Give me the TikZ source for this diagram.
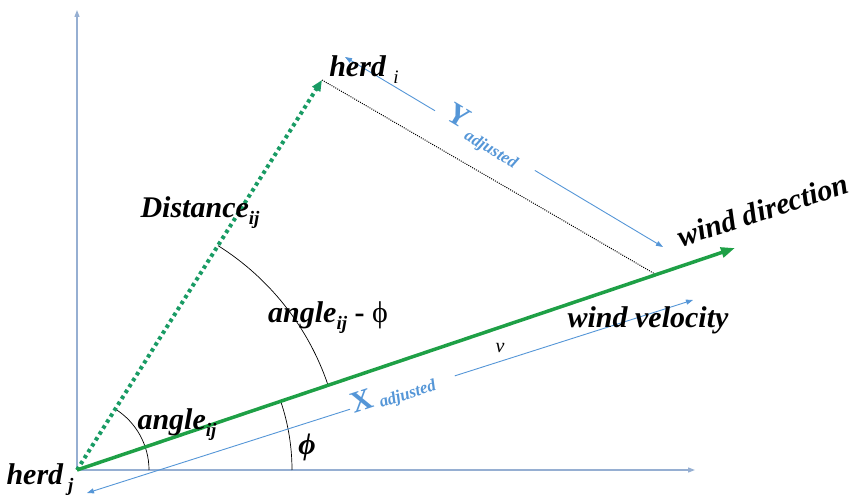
\documentclass[tikz,border=0pt]{standalone}
\usepackage{fontspec}
\setmainfont{Liberation Serif}
\usepackage{tikz}
\usetikzlibrary{arrows.meta, calc, angles}
\definecolor{cWind}{RGB}{30,160,70}
\definecolor{cDist}{RGB}{25,155,100}
\definecolor{cBlue}{RGB}{85,150,215}
\definecolor{cAxis}{RGB}{150,175,210}
\newcommand{\lowsub}[1]{\raisebox{-7pt}{\fontsize{19}{19}\selectfont #1}}
\tikzset{
	axis/.style  ={-{Triangle[length=7pt, width=5pt]}, line width=1.2pt, draw=cAxis},
	wind/.style  ={-{Triangle[length=14pt, width=10pt]}, line width=3.5pt, draw=cWind},
	dist/.style  ={-{Triangle[length=11pt, width=9pt]}, line width=4pt, draw=cDist, dash pattern=on 3.5pt off 3.5pt},
	guide/.style ={draw=black, line width=1pt, dash pattern=on 1pt off 1.2pt},
	adj/.style   ={line width=0.9pt, draw=cBlue},
	adjtip/.style={-{Triangle[length=7pt, width=5pt]}},
	ang/.style   ={draw=black, line width=0.7pt},
	lbl/.style   ={font=\fontsize{30}{32}\selectfont\bfseries\itshape, inner sep=0pt},
	adjlbl/.style={font=\fontsize{30}{32}\selectfont\bfseries, text=cBlue, inner sep=0pt},
}
\newcommand{\adjtext}[1]{\raisebox{#1}{\fontsize{17}{18}\selectfont\itshape adjusted}}
\begin{document}
\begin{tikzpicture}[x=1pt, y=1pt]
	\useasboundingbox (-77,-27) rectangle (781,470);
	% points
	\coordinate (hj) at (0,0);
	\coordinate (ytop) at (0,460);
	\coordinate (xend) at (618,0);
	\coordinate (hi) at (245,390);
	\coordinate (wd) at (658,222);
	\coordinate (foot) at ($(hj)!0.88!(wd)$);
	\coordinate (ya1) at (268,413);
	\coordinate (ya2) at (586,223);
	\coordinate (ygap1) at ($(ya1)!0.283!(ya2)$);
	\coordinate (ygap2) at ($(ya1)!0.597!(ya2)$);
	\coordinate (xa1) at (10,-23);
	\coordinate (xa2) at (616,170);
	\coordinate (xgap1) at ($(xa1)!0.434!(xa2)$);
	\coordinate (xgap2) at ($(xa1)!0.607!(xa2)$);
	% axes
	\draw[axis] (hj) -- (ytop);
	\draw[axis] (hj) -- (xend);
	% angles
	\pic[ang, angle radius=72pt] {angle=xend--hj--hi};
	\pic[ang, angle radius=215pt] {angle=xend--hj--wd};
	\pic[ang, angle radius=265pt] {angle=wd--hj--hi};
	% adjusted components
	\draw[adj, {Triangle[length=7pt, width=5pt]}-] (xa1) -- (xgap1);
	\draw[adj, adjtip] (xgap2) -- (xa2);
	\draw[adj, {Triangle[length=7pt, width=5pt]}-] (ya1) -- (ygap1);
	\draw[adj, adjtip] (ygap2) -- (ya2);
	% vectors
	\draw[guide] (hi) -- (foot);
	\draw[dist] (hj) -- (hi);
	\draw[wind] (hj) -- (wd);
	% labels
	\node[lbl] (distlab) at (123,257) {Distance\lowsub{ij}};
	\node[lbl] (angdiff) at (251,152) {angle\lowsub{ij} {\upshape - {\mdseries ϕ}}};
	\node[lbl] (angij) at (100,45) {angle\lowsub{ij}};
	\node[lbl] (philab) at (230,23) {ϕ};
	\node[lbl] (hjlab) at (-37,-10) {herd\,\lowsub{j}};
	\node[lbl] (hilab) at (287,400) {herd {\mdseries\lowsub{i}}};
	\node[lbl, rotate=18] (wdlab) at (686,260) {wind direction};
	\node[lbl] (wvlab) at (571,150) {wind velocity};
	\node[font=\fontsize{20}{20}\selectfont\itshape, inner sep=0pt] (vlab) at (423,122) {v};
	\node[adjlbl, rotate=-31] (ylab) at (406,333) {Y\hspace{5pt}\adjtext{-7pt}};
	\node[adjlbl, rotate=18] (xlab) at (316,76) {X\hspace{6pt}\adjtext{-3pt}};
\end{tikzpicture}
\end{document}
